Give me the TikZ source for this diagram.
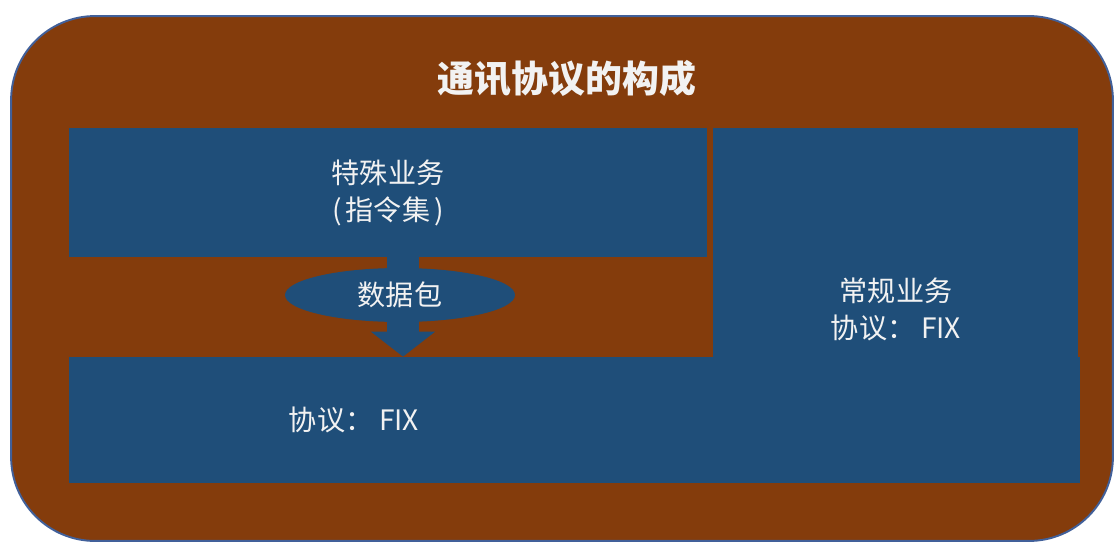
\documentclass[tikz,border=0pt]{standalone}
\usepackage{fontspec}
\newfontfamily\cjk{Noto Sans CJK SC}
\usetikzlibrary{shapes.geometric,arrows.meta}
\definecolor{protobrown}{HTML}{843C0C}
\definecolor{protoblue}{HTML}{1F4E79}
\definecolor{frameblue}{HTML}{41609A}
\definecolor{textwhite}{HTML}{F2F2F2}
\begin{document}
\begin{tikzpicture}[x=0.02cm, y=-0.02cm]
			\tikzset{
				myframe/.style={rectangle, rounded corners=1.68cm, fill=protobrown, draw=frameblue, line width=1.1pt, minimum width=22.04cm, minimum height=10.5cm, inner sep=0pt},
				mybox/.style={rectangle, fill=protoblue, inner sep=0pt},
				mypacket/.style={ellipse, fill=protoblue, inner sep=0pt, minimum width=4.6cm, minimum height=1.08cm, text=textwhite, font=\cjk\fontsize{16}{19}\selectfont},
				mylabel/.style={text=textwhite, align=center, font=\cjk\fontsize{16}{21}\selectfont},
				mytitle/.style={text=textwhite, font=\cjk\bfseries\fontsize{21}{25}\selectfont},
				myarrow/.style={protoblue, line width=0.64cm, -{Triangle[length=0.5cm, width=1.26cm]}}
			}

			\useasboundingbox (0,0) rectangle (1115,541);

			\node[myframe] (frame) at (562,278.5) {};
			\node[mytitle] (title) at (567,78) {通讯协议的构成};

			\node[mybox, minimum width=12.76cm, minimum height=2.58cm] (special) at (388,192.5) {};
			\node[mybox, minimum width=7.3cm, minimum height=4.58cm] (regular) at (895.5,242.5) {};
			\node[mybox, minimum width=20.22cm, minimum height=2.52cm] (proto) at (574.5,420) {};

			\node[mylabel] (speciallbl) at (special.center) {特殊业务\\(\hspace{0.08cm}指令集\hspace{0.08cm})};
			\node[mylabel] (regularlbl) at (896,309) {常规业务\\协议：\hspace{0.12cm}FIX};
			\node[mylabel] (protolbl) at (354,420) {协议：\hspace{0.12cm}FIX};

			\coordinate (drop) at (403,295);
			\draw[myarrow] (special.south -| drop) -- (proto.north -| drop);
			\node[mypacket] (packet) at (400,295) {数据包};

			% \draw[red] (frame.north west) rectangle (frame.south east);
		\end{tikzpicture}
\end{document}
